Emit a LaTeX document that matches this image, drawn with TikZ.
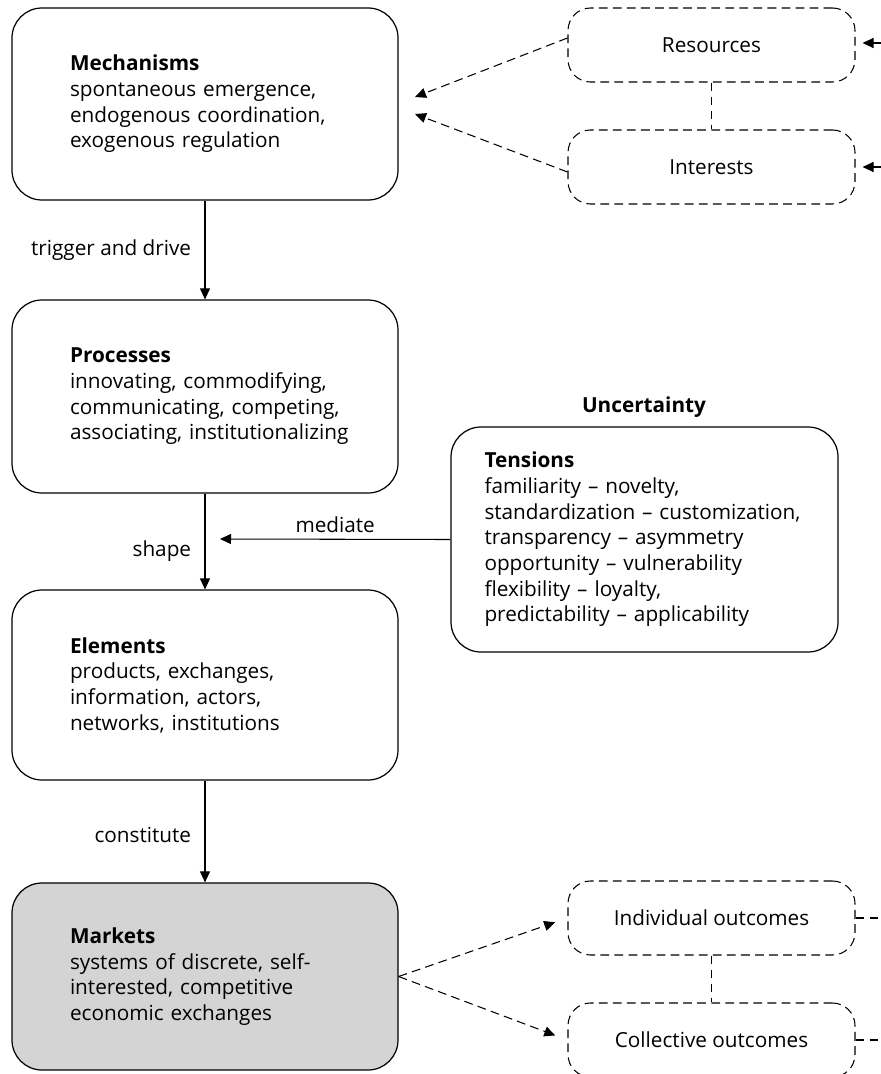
\documentclass[tikz,border=0pt]{standalone}
\usepackage{fontspec}
\setmainfont{Open Sans}
\usepackage{xcolor}
\definecolor{marketgray}{RGB}{212, 212, 212}
\usepackage{tikz}
\usetikzlibrary{arrows.meta, calc}

\begin{document}
\begin{tikzpicture}[every path/.style={line width=0.6pt},
  tip/.style={-{Triangle[length=0.22cm,width=0.2cm]}},
  bigbox/.style={draw, line width=0.7pt, rounded corners=0.6cm, text width=6.1cm,
    inner xsep=0.81cm, minimum height=#1, align=left,
    execute at begin node={\leftskip=0.35cm},
    font=\fontsize{11.8}{14.6}\selectfont},
  dashbox/.style={draw, dash pattern=on 5pt off 3pt, rounded corners=0.45cm,
    minimum width=5.74cm, minimum height=1.48cm, font=\fontsize{11.8}{14.6}\selectfont},
  dashline/.style={dash pattern=on 5pt off 3pt},
  lbl/.style={font=\fontsize{11.8}{14.6}\selectfont}]
  \useasboundingbox (0,0) rectangle (17.62,-21.48);
  % left column
  \node[bigbox=3.84cm] (mech) at (4.10,-2.08) {\textbf{Mechanisms}\\spontaneous emergence,\\endogenous coordination,\\exogenous regulation};
  \node[bigbox=3.86cm] (proc) at (4.10,-7.93) {\textbf{Processes}\\innovating, commodifying,\\communicating, competing,\\associating, institutionalizing};
  \node[bigbox=3.80cm] (elem) at (4.10,-13.70) {\textbf{Elements}\\products, exchanges,\\information, actors,\\networks, institutions};
  \node[bigbox=3.74cm, fill=marketgray] (mark) at (4.10,-19.53) {\textbf{Markets}\\systems of discrete, self-\\interested, competitive\\economic exchanges};
  % tensions
  \node[bigbox=4.50cm, text width=7.10cm, inner xsep=0.32cm] (tens) at (12.89,-10.79) {\textbf{Tensions}\\familiarity -- novelty,\\standardization -- customization,\\transparency -- asymmetry\\opportunity -- vulnerability\\flexibility -- loyalty,\\predictability -- applicability};
  \node[lbl, font=\fontsize{11.8}{14.6}\selectfont\bfseries] (unc) at (12.88,-8.14) {Uncertainty};
  % dashed side boxes
  \node[dashbox] (res) at (14.23,-0.90) {Resources};
  \node[dashbox] (int) at (14.23,-3.34) {Interests};
  \node[dashbox] (ind) at (14.23,-18.36) {Individual outcomes};
  \node[dashbox] (col) at (14.23,-20.80) {Collective outcomes};
  \coordinate (mechA) at (8.30,-1.94);
  \coordinate (mechB) at (8.30,-2.28);
  \coordinate (resR) at (17.62,-0.86);
  \coordinate (intR) at (17.62,-3.34);
  \coordinate (indR) at (17.62,-18.36);
  \coordinate (colR) at (17.62,-20.80);
  \coordinate (medEnd) at (4.40,-10.78);
  % main flow
  \draw[tip] (mech) -- (proc) node[lbl, midway, left=0.15cm] {trigger and drive};
  \draw[tip] (proc) -- (elem) node[lbl, pos=0.6, left=0.15cm] {shape};
  \draw[tip] (elem) -- (mark) node[lbl, pos=0.53, left=0.15cm] {constitute};
  \draw[tip] (tens.west) -- (medEnd) node[lbl, midway, above] {mediate};
  % dashed links
  \draw[dashline, tip] ($(res.west)+(0,0.14)$) -- (mechA);
  \draw[dashline, tip] ($(int.west)+(0,-0.1)$) -- (mechB);
  \draw[dashline] (res.south) -- (int.north);
  \draw[dashline, tip, shorten >=0.14cm] (resR) -- (res.east |- resR);
  \draw[dashline, tip, shorten >=0.14cm] (intR) -- (int.east);
  \draw[dashline, tip, shorten >=0.26cm] (mark.east) -- (ind.west);
  \draw[dashline, tip, shorten >=0.26cm] (mark.east) -- (col.west);
  \draw[dashline] (ind.south) -- (col.north);
  \draw[dashline] (ind.east) -- (indR);
  \draw[dashline] (col.east) -- (colR);
\end{tikzpicture}
\end{document}
